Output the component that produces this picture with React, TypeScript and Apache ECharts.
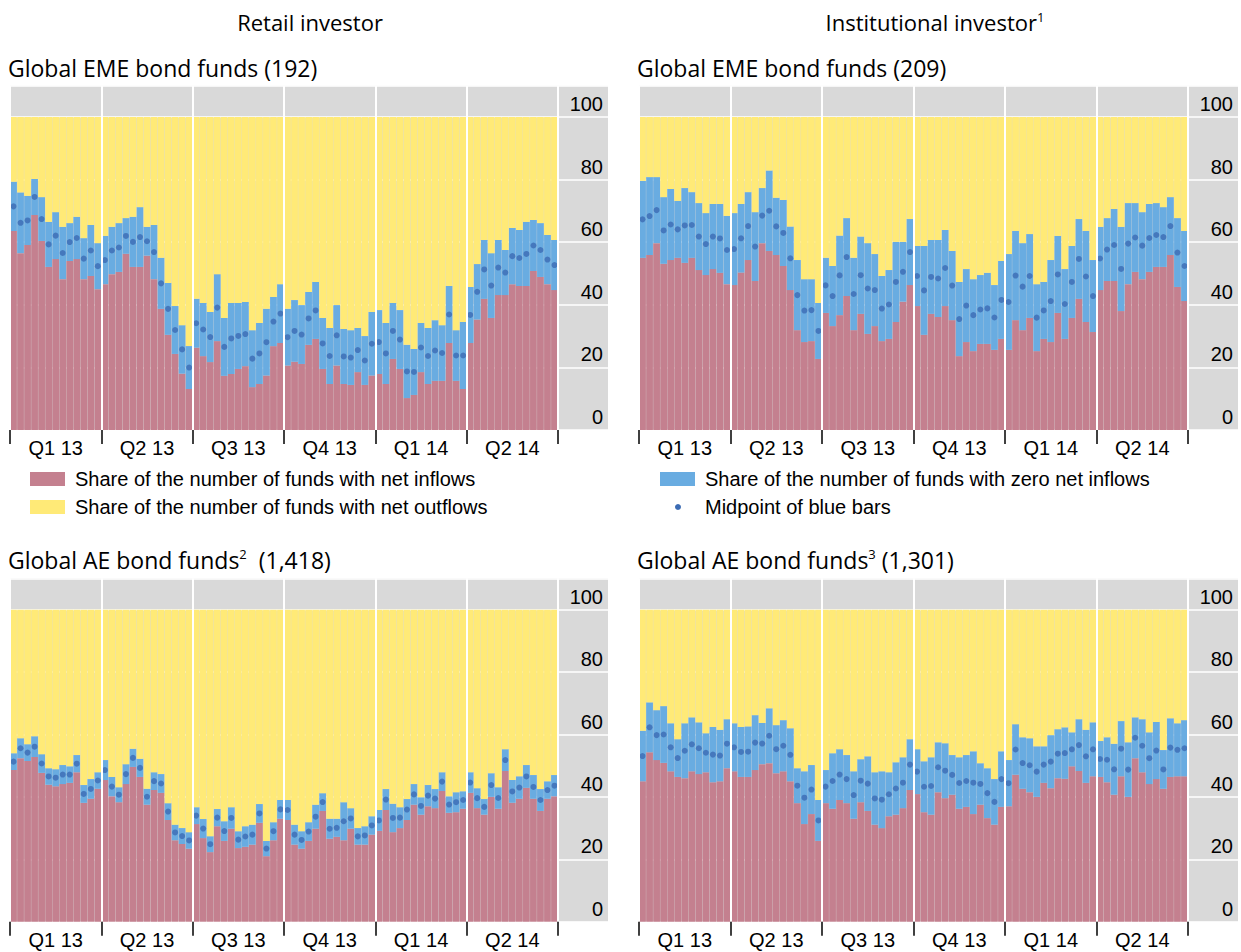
import React, { useEffect, useRef } from "react";
import * as echarts from "echarts";

// ---- Data (shares of funds, % ; weekly, Q1 2013 – Q2 2014) ----
const quarters = ["Q1 13", "Q2 13", "Q3 13", "Q4 13", "Q1 14", "Q2 14"];
const WEEKS_PER_QUARTER = 13;
const weeks: string[] = [];
quarters.forEach((q) => {
  for (let w = 1; w <= WEEKS_PER_QUARTER; w++) weeks.push(`${q} w${w}`);
});
const yTicks = [0, 20, 40, 60, 80, 100];

// Retail, global EME bond funds: share with net inflows / share without net outflows (inflows + zero)
const emeRetailInflow = [63.6,56.5,59.1,68.7,60.4,52.1,54.6,48.2,54.0,54.6,48.2,49.2,45.0,46.6,49.8,50.5,56.3,52.1,52.1,55.7,48.2,38.7,30.4,24.3,18.0,13.1,26.3,23.6,21.7,28.4,17.3,17.9,19.5,20.4,13.7,14.7,17.4,26.8,27.8,20.6,21.8,21.1,27.2,29.1,19.5,14.7,20.6,14.7,14.4,18.5,14.4,17.4,17.9,14.7,22.7,19.5,10.2,11.2,18.5,14.7,15.7,15.7,27.8,15.7,13.1,27.8,35.3,41.9,35.8,43.1,43.1,46.6,46.0,46.0,50.8,48.9,46.6,44.7];
const emeRetailNoOutflow = [79.3,75.9,74.8,80.2,74.4,66.5,69.6,64.9,66.1,68.1,61.3,65.5,59.7,62.0,64.9,66.1,67.7,68.1,71.2,64.9,65.5,55.0,47.0,39.6,33.5,26.8,41.9,40.6,37.7,49.8,35.8,40.6,40.6,40.9,31.9,34.2,38.7,42.5,46.6,38.7,41.5,39.9,44.1,47.3,35.8,32.6,39.9,32.3,31.9,32.6,30.0,37.7,38.3,34.2,40.6,38.3,27.2,25.9,34.2,32.6,35.1,33.5,46.0,31.9,34.5,45.7,53.0,60.7,56.5,60.7,57.5,64.5,63.9,66.5,67.1,66.1,62.3,60.7];

// Institutional, global EME bond funds
const emeInstInflow = [55.0,55.9,59.7,53.1,54.3,55.0,53.4,55.0,51.1,49.5,51.4,50.2,46.6,46.3,50.3,54.3,47.6,59.7,57.2,55.9,52.4,44.7,31.9,28.1,28.4,22.7,37.4,33.2,36.7,42.8,31.9,37.1,30.7,33.2,28.4,29.1,34.5,41.0,46.3,39.6,30.4,37.1,36.1,39.6,35.1,23.6,28.1,25.2,27.5,27.5,25.6,29.1,25.6,35.1,31.9,35.8,25.2,29.1,28.1,37.4,29.1,35.8,41.9,34.5,31.3,44.7,47.6,47.6,38.0,46.6,50.5,48.2,50.5,52.1,52.1,55.9,45.7,41.2];
const emeInstNoOutflow = [79.6,80.8,80.8,74.4,77.0,73.2,77.3,76.0,72.5,69.3,72.2,72.2,68.4,69.3,72.2,76.0,69.6,77.3,82.9,74.2,73.5,65.0,54.3,48.2,48.2,40.6,55.0,52.4,62.1,67.7,55.0,61.8,59.7,56.2,49.2,51.1,60.1,60.1,67.4,58.8,58.8,60.7,60.7,63.9,57.2,47.3,51.4,48.2,49.5,50.2,46.3,54.0,56.2,63.6,59.7,62.6,46.6,47.3,54.3,62.0,51.4,58.8,67.4,63.6,54.3,64.9,67.7,70.6,64.9,72.5,72.5,69.6,72.2,72.5,71.2,74.4,67.7,63.6];

// Retail, global AE bond funds
const aeRetailInflow = [48.6,52.4,51.5,52.8,47.7,43.9,43.4,44.1,44.5,47.9,38.1,39.4,42.6,45.4,40.2,38.3,44.1,49.6,46.4,37.5,42.2,41.3,32.6,26.1,24.9,23.4,31.3,26.8,22.3,30.6,25.9,29.8,23.6,24.0,24.7,31.7,21.0,26.1,33.0,32.6,24.7,23.4,25.9,29.8,35.5,26.6,27.2,26.1,29.8,24.7,24.7,27.9,29.1,35.8,28.7,30.0,32.6,37.5,34.3,37.0,36.4,41.9,34.9,35.1,36.2,41.3,36.4,34.3,40.0,36.2,48.3,38.1,39.4,42.9,39.4,35.5,39.4,40.2];
const aeRetailNoOutflow = [54.0,58.8,56.9,59.4,53.7,49.2,48.9,50.2,49.8,53.4,43.8,45.7,47.9,51.8,46.4,43.1,50.5,55.4,52.2,42.6,47.9,47.3,38.0,31.1,30.0,28.7,36.7,32.9,27.4,36.1,32.2,36.7,29.0,30.6,31.1,37.7,25.9,31.9,39.0,39.0,31.1,29.0,31.9,37.5,41.2,33.0,33.0,38.3,36.4,30.0,30.6,33.8,35.8,42.5,37.8,36.7,39.3,44.1,39.9,43.8,42.5,47.9,40.2,41.5,41.8,47.9,42.8,39.3,47.6,43.1,55.3,45.4,46.6,50.2,47.0,42.5,45.0,47.0];

// Institutional, global AE bond funds
const aeInstInflow = [45.0,54.3,51.8,50.9,48.2,46.4,46.0,48.2,47.3,47.9,44.7,45.0,49.2,48.2,46.4,46.4,48.6,50.5,50.8,47.6,48.2,45.0,38.0,31.3,34.5,25.9,38.0,36.2,39.0,38.0,33.0,38.3,35.5,31.1,30.0,33.8,34.3,36.4,42.2,40.9,35.1,34.3,41.5,39.6,40.7,36.2,36.8,34.5,37.5,33.2,31.1,36.8,37.0,47.1,42.6,41.5,40.0,44.5,42.8,46.0,45.8,49.8,48.3,44.5,46.6,46.4,44.7,40.7,46.6,40.0,52.4,47.9,44.1,45.7,42.6,46.4,46.6,46.6];
const aeInstNoOutflow = [61.2,70.3,67.8,69.1,63.6,58.5,63.6,65.5,63.9,60.4,62.4,61.5,64.9,63.6,62.4,62.6,66.2,63.7,68.4,63.0,64.6,62.0,49.2,48.2,50.2,39.0,48.6,54.0,55.3,53.4,48.2,52.1,53.0,47.9,48.2,47.9,51.1,52.7,58.5,55.3,51.4,52.7,57.5,57.2,53.4,52.7,53.4,54.6,50.8,49.2,45.7,54.6,51.8,63.3,59.1,58.8,56.2,56.2,59.8,61.7,62.3,60.7,64.9,61.5,63.9,57.9,59.1,57.0,64.3,57.5,65.5,64.9,60.7,64.0,55.0,65.2,63.6,64.6];

const NAME_IN = "Share of the number of funds with net inflows";
const NAME_OUT = "Share of the number of funds with net outflows";
const NAME_ZERO = "Share of the number of funds with zero net inflows";
const NAME_MID = "Midpoint of blue bars";

// ---- Style ----
const C_RED = "#c4808f";
const C_BLUE = "#69ace1";
const C_YEL = "#ffea77";
const C_GRAY = "#d9d9d9";
const C_DOT = "#3c6cb4";
const ARIAL = "'Liberation Sans', Arial, sans-serif";
const TITLE_FONT = "'Open Sans', 'Noto Sans', sans-serif";

type Panel = {
  inflow: number[];
  noOutflow: number[];
  left: number;
  top: number;
  height: number;
  dataWidth: number;
  bgWidth: number;
};

const panels: Panel[] = [
  { inflow: emeRetailInflow, noOutflow: emeRetailNoOutflow, left: 10, top: 85.7, height: 344.3, dataWidth: 548, bgWidth: 598 },
  { inflow: emeInstInflow, noOutflow: emeInstNoOutflow, left: 639, top: 85.7, height: 344.3, dataWidth: 549, bgWidth: 599 },
  { inflow: aeRetailInflow, noOutflow: aeRetailNoOutflow, left: 10, top: 578.5, height: 343.2, dataWidth: 548, bgWidth: 598 },
  { inflow: aeInstInflow, noOutflow: aeInstNoOutflow, left: 639, top: 578.5, height: 343.2, dataWidth: 549, bgWidth: 599 },
];

function buildOption() {
  const grid: any[] = [];
  const xAxis: any[] = [];
  const yAxis: any[] = [];
  const series: any[] = [];

  panels.forEach((p, k) => {
    const gBg = k * 2;
    const gData = k * 2 + 1;
    grid.push({ left: p.left, top: p.top, width: p.bgWidth, height: p.height, show: true, backgroundColor: C_GRAY, borderWidth: 0 });
    grid.push({ left: p.left, top: p.top, width: p.dataWidth, height: p.height, show: false });

    xAxis.push({ gridIndex: gBg, type: "value", min: 0, max: 1, show: false });
    yAxis.push({
      gridIndex: gBg,
      type: "value",
      min: 0,
      max: 110,
      interval: 20,
      position: "right",
      axisLine: { show: false },
      axisTick: { show: false },
      splitLine: { show: true, lineStyle: { color: "#ffffff", width: 1.5 } },
      axisLabel: {
        inside: true,
        margin: 5,
        color: "#000",
        fontFamily: ARIAL,
        fontSize: 20,
        verticalAlign: "bottom",
        padding: [0, 0, 3, 0],
        showMaxLabel: false,
        formatter: (v: number) => (yTicks.indexOf(v) >= 0 ? String(v) : ""),
      },
    });

    xAxis.push({
      gridIndex: gData,
      type: "category",
      data: weeks,
      z: 5,
      boundaryGap: true,
      axisLine: { show: false },
      axisTick: {
        show: true,
        interval: (i: number) => i % WEEKS_PER_QUARTER === 0,
        length: 14,
        lineStyle: { color: "#000", width: 1.5 },
      },
      splitLine: {
        show: true,
        interval: (i: number) => i % WEEKS_PER_QUARTER === 0,
        lineStyle: { color: "#ffffff", width: 2 },
      },
      axisLabel: {
        interval: (i: number) => i % WEEKS_PER_QUARTER === 6,
        formatter: (_v: string, i: number) => quarters[Math.floor(i / WEEKS_PER_QUARTER)],
        color: "#000",
        fontFamily: ARIAL,
        fontSize: 20,
        margin: 8,
      },
    });
    yAxis.push({ gridIndex: gData, type: "value", min: 0, max: 110, show: false });

    const xi = k * 2 + 1;
    const yi = k * 2 + 1;
    const stack = `p${k}`;
    const zero = p.noOutflow.map((v, i) => +(v - p.inflow[i]).toFixed(1));
    const out = p.noOutflow.map((v) => +(100 - v).toFixed(1));
    const mid = p.noOutflow.map((v, i) => +((v + p.inflow[i]) / 2).toFixed(2));
    const barBase = { type: "bar", stack, xAxisIndex: xi, yAxisIndex: yi, barCategoryGap: "4%", silent: true };
    series.push({ ...barBase, name: NAME_IN, data: p.inflow, itemStyle: { color: C_RED } });
    series.push({ ...barBase, name: NAME_ZERO, data: zero, itemStyle: { color: C_BLUE } });
    series.push({ ...barBase, name: NAME_OUT, data: out, itemStyle: { color: C_YEL } });
    series.push({
      type: "scatter",
      name: NAME_MID,
      xAxisIndex: xi,
      yAxisIndex: yi,
      data: mid,
      symbol: "circle",
      symbolSize: 6,
      z: 4,
      silent: true,
      itemStyle: { color: C_DOT },
    });
  });

  const supTitle = (main: string, sup: string, tail: string, x: number, y: number) => ({
    type: "text",
    x,
    y,
    style: {
      text: `{a|${main}}{s|${sup}}{a|${tail}}`,
      rich: {
        a: { fontFamily: TITLE_FONT, fontSize: 23, fill: "#000", color: "#000" },
        s: { fontFamily: TITLE_FONT, fontSize: 13, fill: "#000", color: "#000", verticalAlign: "top", padding: [0, 0, 12, 0] },
      },
      verticalAlign: "middle",
    },
  });

  const plainText = (text: string, x: number, y: number, font: string, size: number, align = "left") => ({
    type: "text",
    x,
    y,
    style: { text, fontFamily: font, fontSize: size, fill: "#000", align, verticalAlign: "middle" },
  });

  const graphic: any[] = [
    plainText("Retail investor", 310, 22, TITLE_FONT, 22, "center"),
    {
      type: "text",
      x: 935,
      y: 22,
      style: {
        text: "{a|Institutional investor}{s|1}",
        align: "center",
        verticalAlign: "middle",
        rich: {
          a: { fontFamily: TITLE_FONT, fontSize: 22, fill: "#000", color: "#000" },
          s: { fontFamily: TITLE_FONT, fontSize: 13, fill: "#000", color: "#000", verticalAlign: "top", padding: [0, 0, 11, 0] },
        },
      },
    },
    plainText("Global EME bond funds (192)", 8, 68, TITLE_FONT, 23),
    plainText("Global EME bond funds (209)", 637, 68, TITLE_FONT, 23),
    supTitle("Global AE bond funds", "2", "  (1,418)", 8, 560),
    supTitle("Global AE bond funds", "3", " (1,301)", 637, 560),
    // legends
    { type: "rect", shape: { x: 30, y: 472, width: 35, height: 14 }, style: { fill: C_RED } },
    plainText(NAME_IN, 75, 479, ARIAL, 20),
    { type: "rect", shape: { x: 30, y: 500, width: 35, height: 14 }, style: { fill: C_YEL } },
    plainText(NAME_OUT, 75, 507, ARIAL, 20),
    { type: "rect", shape: { x: 660, y: 472, width: 35, height: 14 }, style: { fill: C_BLUE } },
    plainText(NAME_ZERO, 705, 479, ARIAL, 20),
    { type: "circle", shape: { cx: 678, cy: 507, r: 3 }, style: { fill: C_DOT } },
    plainText(NAME_MID, 705, 507, ARIAL, 20),
  ];

  return {
    animation: false,
    backgroundColor: "#ffffff",
    grid,
    xAxis,
    yAxis,
    series,
    graphic,
  };
}

export default function App() {
  const ref = useRef<HTMLDivElement>(null);
  useEffect(() => {
    if (!ref.current) return;
    const chart = echarts.init(ref.current, undefined, { renderer: "svg" });
    chart.setOption(buildOption() as any);
    return () => chart.dispose();
  }, []);
  return (
    <div
      ref={ref}
      style={{ position: "absolute", left: 0, top: 0, width: 1241, height: 952, background: "#fff" }}
    />
  );
}
